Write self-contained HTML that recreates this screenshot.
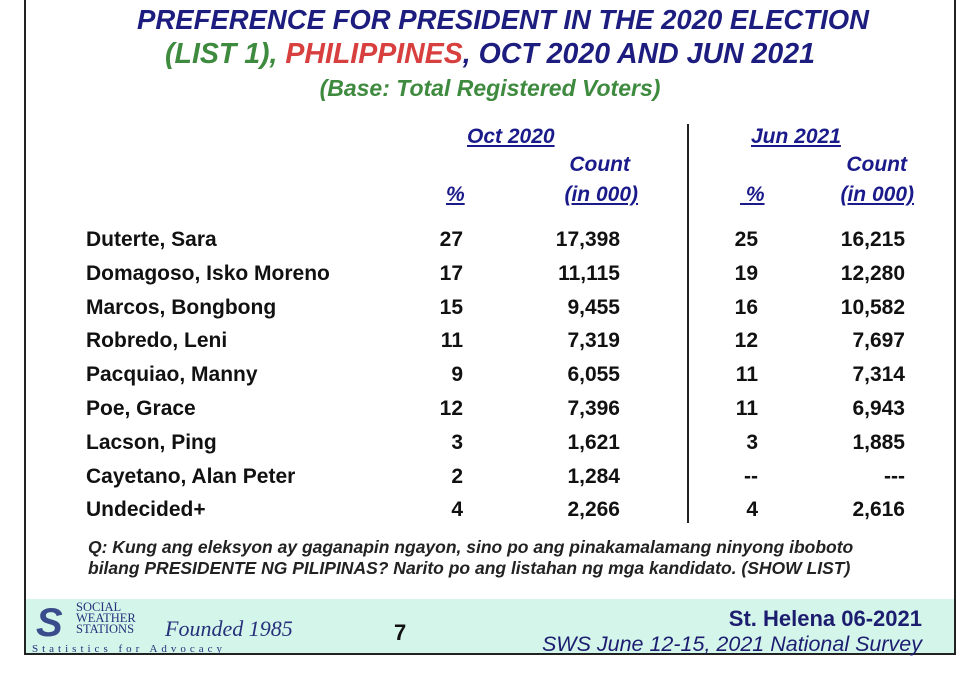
<!DOCTYPE html>
<html><head><meta charset="utf-8"><style>
body{margin:0;width:960px;height:686px;background:#fff;position:relative;overflow:hidden;font-family:"Liberation Sans",Arial,sans-serif;}
.a{position:absolute;white-space:nowrap}
.t{font-weight:bold;font-style:italic;font-size:27.5px;left:0;width:1006px;text-align:center}
.r{font-weight:bold;font-size:21px;color:#111}
.h{font-weight:bold;font-style:italic;font-size:21px;color:#1a1a8a}
.u{text-decoration:underline}
</style></head><body>
<div class="a" style="left:24px;top:-2px;width:932px;height:657px;border-left:2px solid #222;border-right:2px solid #222;border-bottom:2px solid #222;box-sizing:border-box"></div>
<div class="a t" style="top:4px;color:#1d1d80">PREFERENCE FOR PRESIDENT IN THE 2020 ELECTION</div>
<div class="a t" style="top:38px;font-size:28.5px;width:980px"><span style="color:#3e8a3e">(LIST 1), </span><span style="color:#d84040">PHILIPPINES</span><span style="color:#1d1d80">, OCT 2020 AND JUN 2021</span></div>
<div class="a t" style="top:75px;font-size:23px;width:980px;color:#3e8a3e">(Base: Total Registered Voters)</div>

<div class="a h u" style="left:467px;top:125px">Oct 2020</div>
<div class="a h u" style="left:751px;top:125px">Jun 2021</div>
<div class="a h" style="right:330px;top:153px;text-align:right">Count</div>
<div class="a h u" style="right:322px;top:183px">(in 000)</div>
<div class="a h u" style="left:446px;top:183px">%</div>
<div class="a h" style="right:53px;top:153px">Count</div>
<div class="a h u" style="right:46px;top:183px">(in 000)</div>
<div class="a h u" style="left:740px;top:183px">&nbsp;%</div>
<div class="a" style="left:687px;top:124px;width:2px;height:399px;background:#222"></div>

<div id="rows"></div>

<div class="a" style="left:88px;top:537px;font-size:17.5px;font-weight:bold;font-style:italic;color:#222;line-height:21px">Q: Kung ang eleksyon ay gaganapin ngayon, sino po ang pinakamalamang ninyong iboboto<br>bilang PRESIDENTE NG PILIPINAS? Narito po ang listahan ng mga kandidato. (SHOW LIST)</div>

<div class="a" style="left:26px;top:599px;width:928px;height:54px;background:#d3f5ea"></div>
<div class="a" style="left:36px;top:603px;font-size:40px;font-weight:bold;font-style:italic;color:#3a4c8c;line-height:40px">S</div>
<div class="a" style="left:76px;top:602px;font-family:'Liberation Serif',serif;font-size:12.5px;line-height:11px;color:#27307a">SOCIAL<br>WEATHER<br>STATIONS</div>
<div class="a" style="left:165px;top:616px;font-family:'Liberation Serif',serif;font-style:italic;font-size:22px;color:#27307a">Founded 1985</div>
<div class="a" style="left:32px;top:643px;font-family:'Liberation Serif',serif;font-size:11px;letter-spacing:4px;color:#27307a">Statistics for Advocacy</div>
<div class="a" style="left:394px;top:620px;font-size:22px;font-weight:bold;color:#111">7</div>
<div class="a" style="right:38px;top:606px;font-size:22px;font-weight:bold;color:#1d1d70">St. Helena 06-2021</div>
<div class="a" style="right:38px;top:632px;font-size:21.5px;font-style:italic;color:#1d1d70">SWS June 12-15, 2021 National Survey</div>

<script>
const names=["Duterte, Sara","Domagoso, Isko Moreno","Marcos, Bongbong","Robredo, Leni","Pacquiao, Manny","Poe, Grace","Lacson, Ping","Cayetano, Alan Peter","Undecided+"];
const octPct=["27","17","15","11","9","12","3","2","4"];
const octCount=["17,398","11,115","9,455","7,319","6,055","7,396","1,621","1,284","2,266"];
const junPct=["25","19","16","12","11","11","3","--","4"];
const junCount=["16,215","12,280","10,582","7,697","7,314","6,943","1,885","---","2,616"];
const host=document.getElementById('rows');
function cell(txt,css,name){const d=document.createElement('div');d.className='a r';d.style.cssText=css;d.textContent=txt;


host.appendChild(d);}
names.forEach((n,i)=>{const y=228+i*33.8;
cell(n,`left:86px;top:${y}px`,'row-name');
cell(octPct[i],`right:497px;top:${y}px`,'oct-pct');
cell(octCount[i],`right:340px;top:${y}px`,'oct-count');
cell(junPct[i],`right:202px;top:${y}px`,'jun-pct');
cell(junCount[i],`right:55px;top:${y}px`,'jun-count');});
</script>
</body></html>
